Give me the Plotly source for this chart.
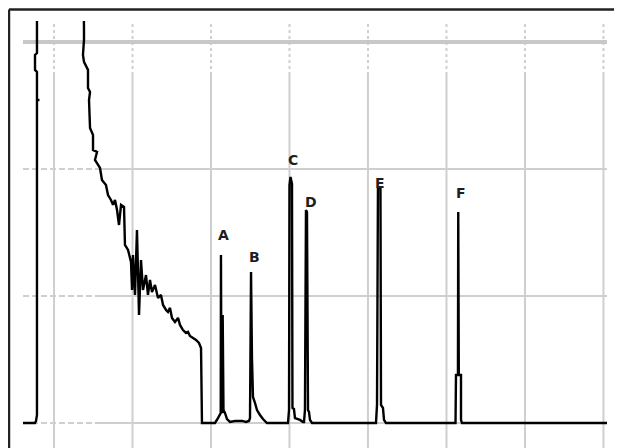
import plotly.graph_objects as go

# Chromatogram trace: retention time (min) and detector signal (mAU)
time_min = [0.605, 0.758, 0.771, 0.783, 0.783, 0.815, 0.783, 0.783, 0.758, 0.758, 0.783, 0.783, 0.796,
            1.369, 1.382, 1.382, 1.369, 1.382, 1.433, 1.433, 1.459, 1.446, 1.459, 1.497, 1.497, 1.548,
            1.522, 1.586, 1.611, 1.662, 1.688, 1.726, 1.752, 1.777, 1.803, 1.828, 1.854, 1.892, 1.904,
            1.943, 1.981, 1.994, 2.006, 2.032, 2.057, 2.083, 2.108, 2.134, 2.172, 2.197, 2.223, 2.248,
            2.287, 2.325, 2.363, 2.389, 2.427, 2.452, 2.478, 2.503, 2.541, 2.580, 2.605, 2.643, 2.682,
            2.707, 2.732, 2.771, 2.809, 2.847, 2.873, 2.885,
            3.051, 3.089, 3.115, 3.124, 3.127, 3.134, 3.144, 3.149, 3.159, 3.178, 3.204, 3.242, 3.306,
            3.395, 3.446, 3.484, 3.497, 3.510, 3.522, 3.535, 3.561, 3.586, 3.624, 3.662, 3.713,
            3.981, 3.994, 4.000, 4.013, 4.032, 4.038, 4.057, 4.070, 4.134, 4.172, 4.185, 4.197, 4.210,
            4.223, 4.236, 4.248, 4.261, 4.287,
            5.102, 5.115, 5.127, 5.159, 5.166, 5.191, 5.204, 5.229,
            6.115, 6.121, 6.146, 6.150, 6.157, 6.185, 6.185, 6.197, 8.045]
signal_mau = [0, 0, 1.6, 6.3, 254.3, 254.3, 254.3, 276.4, 278.0, 289.8, 291.3, 400, 400,
              400, 309.4, 301.6, 289.8, 284.3, 278.0, 263.8, 260.6, 254.3, 232.3, 226.8, 215.0, 213.4,
              207.1, 200.8, 191.3, 187.4, 179.5, 175.6, 171.7, 175.6, 167.7, 155.9, 171.7, 170.1, 140.2,
              136.2, 126.8, 104.7, 132.3, 100.8, 152.0, 85.0, 128.3, 104.7, 116.5, 100.8, 112.6, 103.1,
              108.7, 98.4, 100.8, 92.9, 89.0, 87.4, 90.6, 82.7, 79.5, 82.7, 77.2, 73.2, 70.9,
              71.7, 68.5, 66.9, 65.4, 63.0, 59.1, 0,
              0, 3.9, 7.9, 7.9, 132.3, 8.7, 8.7, 85.0, 10.2, 7.9, 3.1, 0.8, 1.6,
              1.6, 0.8, 1.6, 3.9, 118.9, 51.2, 20.5, 15.7, 10.2, 6.3, 3.1, 0,
              0, 10.2, 187.4, 193.7, 188.2, 11.8, 11.0, 3.9, 2.4, 0.8, 0.8, 10.2, 167.7,
              166.1, 10.2, 8.7, 2.4, 0,
              0, 14.2, 185.0, 185.0, 14.2, 11.8, 2.4, 0,
              0, 37.8, 37.8, 166.1, 37.8, 37.8, 2.4, 0, 0]

# Peak labels
peak_labels = ["A", "B", "C", "D", "E", "F"]
label_time = [3.153, 3.548, 4.045, 4.274, 5.153, 6.185]
label_signal = [148.0, 130.7, 207.1, 174.0, 189.0, 181.1]

# Grid positions
grid_time = [1, 2, 3, 4, 5, 6, 7, 8]
grid_signal = [0, 100, 200]
top_grid_signal = 300

x_range = [0.605, 8.045]
y_range = [-19.7, 316.5]

fig = go.Figure()
fig.add_trace(go.Scatter(x=time_min, y=signal_mau, mode="lines",
                         line=dict(color="black", width=2.4), hoverinfo="skip",
                         showlegend=False))

grid_col = "#cfcfcf"
shapes = []
for g in grid_time:
    shapes.append(dict(type="line", xref="x", yref="y", x0=g, x1=g, y0=y_range[0], y1=274,
                       line=dict(color=grid_col, width=2), layer="below"))
    shapes.append(dict(type="line", xref="x", yref="y", x0=g, x1=g, y0=274, y1=y_range[1],
                       line=dict(color=grid_col, width=2, dash="dot"), layer="below"))
for g in grid_signal:
    shapes.append(dict(type="line", xref="x", yref="y", x0=x_range[0], x1=1.52, y0=g, y1=g,
                       line=dict(color=grid_col, width=2, dash="6px,3px"), layer="below"))
    shapes.append(dict(type="line", xref="x", yref="y", x0=1.52, x1=x_range[1], y0=g, y1=g,
                       line=dict(color=grid_col, width=2), layer="below"))
shapes.append(dict(type="line", xref="x", yref="y", x0=x_range[0], x1=x_range[1],
                   y0=top_grid_signal, y1=top_grid_signal,
                   line=dict(color="#c8c8c8", width=4), layer="below"))
# window frame (top and left edges)
shapes.append(dict(type="line", xref="paper", yref="paper", x0=-0.0240, x1=1.03, y0=1.0269, y1=1.0269,
                   line=dict(color="#222222", width=2.5)))
shapes.append(dict(type="line", xref="paper", yref="paper", x0=-0.0240, x1=-0.0240, y0=-0.01, y1=1.0269,
                   line=dict(color="#222222", width=2.5)))

annotations = [dict(x=t, y=s, text=lab, xref="x", yref="y", showarrow=False,
                    font=dict(family="DejaVu Sans", size=14, color="#1e1e1e", weight="bold"))
               for lab, t, s in zip(peak_labels, label_time, label_signal)]

fig.update_layout(
    width=614, height=440,
    margin=dict(l=15, r=15, t=13, b=0),
    paper_bgcolor="white", plot_bgcolor="white",
    shapes=shapes, annotations=annotations,
    xaxis=dict(range=x_range, showgrid=False, zeroline=False, showticklabels=False,
               ticks="", showline=False),
    yaxis=dict(range=y_range, showgrid=False, zeroline=False, showticklabels=False,
               ticks="", showline=False),
)

fig.write_html("out.html")
